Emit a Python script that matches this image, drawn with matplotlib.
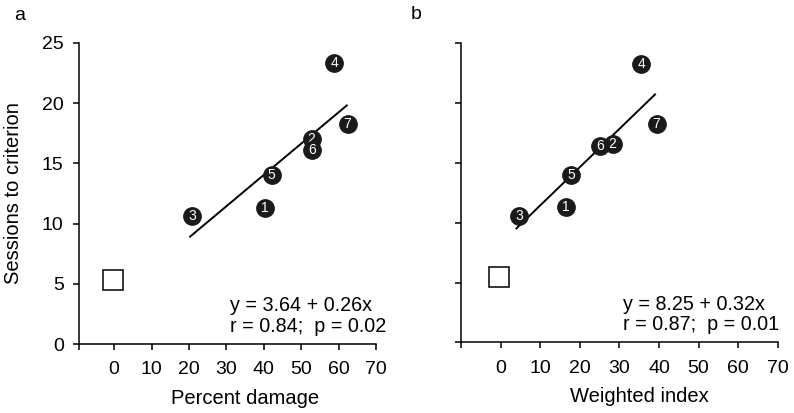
#!/usr/bin/env python3

# sessions to criterion vs lesion size, two panels

import matplotlib
matplotlib.use("Agg")
import matplotlib.pyplot as plt

plt.rcParams['font.family'] = ['Liberation Sans', 'DejaVu Sans']

#-- data
subjects = ["1", "2", "3", "4", "5", "6", "7"]
sessions = [11.3, 17.0, 10.6, 23.3, 14.0, 16.1, 18.3]
pct_damage = [40.3, 52.8, 20.8, 58.9, 42.1, 52.8, 62.4]
sessions_b = [11.3, 16.6, 10.6, 23.3, 14.0, 16.4, 18.25]
weighted_idx = [16.5, 28.3, 4.6, 35.5, 17.8, 25.1, 39.4]

# control group (open square)
ctrl_x_a, ctrl_y_a = -0.3, 5.3
ctrl_x_b, ctrl_y_b = -0.4, 5.5

# regression fits
fit_a = (3.64, 0.26, 20.3, 62.2)   # intercept, slope, x from, x to
fit_b = (8.25, 0.32, 4.0, 39.0)
eq_a = "y = 3.64 + 0.26x\nr = 0.84;  p = 0.02"
eq_b = "y = 8.25 + 0.32x\nr = 0.87;  p = 0.01"

xticks = [0, 10, 20, 30, 40, 50, 60, 70]
yticks = [0, 5, 10, 15, 20, 25]


def panel(ax, xs, ys, cx, cy, fit, eq, xlabel, xmin, ylabels=True):
    # points with numbers inside
    for i, (x, y) in enumerate(zip(xs, ys)):
        ax.plot(x, y, 'o', ms=12.5, color='#1a1a1a', zorder=3 + i)
        ax.text(x, y, subjects[i], color='white', fontsize=10,
                ha='center', va='center', zorder=3 + i)
    ax.plot(cx, cy, 's', ms=15, mfc='white', mec='black', mew=1.1, zorder=2)
    b0, b1, x0, x1 = fit
    ax.plot([x0, x1], [b0 + b1 * x0, b0 + b1 * x1], color='black', lw=1.4, zorder=2)
    ax.text(0.51, 0.027, eq, transform=ax.transAxes, fontsize=14.2,
            ha='left', va='bottom', linespacing=1.12)

    ax.set_xlim(xmin, 70)
    ax.set_ylim(0, 25)
    ax.set_xticks(xticks)
    ax.set_xticks([xmin], minor=True)
    ax.set_yticks(yticks)
    if not ylabels:
        ax.set_yticklabels([])
    ax.spines['top'].set_visible(False)
    ax.spines['right'].set_visible(False)
    for s in ['left', 'bottom']:
        ax.spines[s].set_linewidth(1.1)
    ax.tick_params(which='both', direction='out', length=4, width=1.1,
                   labelsize=14)
    ax.tick_params(axis='y', pad=7)
    ax.tick_params(axis='x', pad=8.5)
    ax.set_xlabel(xlabel, fontsize=14.5)
    # label sits over the middle of the 0-70 range, not the axes
    mid = (35 - xmin) / (70 - xmin)
    ax.xaxis.set_label_coords(mid, -0.15)


fig = plt.figure(figsize=(7.94, 4.13), dpi=100)
ax1 = fig.add_axes([0.0995, 0.167, 0.374, 0.729])
ax2 = fig.add_axes([0.5806, 0.171, 0.399, 0.724])

panel(ax1, pct_damage, sessions, ctrl_x_a, ctrl_y_a, fit_a, eq_a,
      "Percent damage", -9.4)
panel(ax2, weighted_idx, sessions_b, ctrl_x_b, ctrl_y_b, fit_b, eq_b,
      "Weighted index", -10.0, ylabels=False)
ax1.set_ylabel("Sessions to criterion", fontsize=14.5)
ax1.yaxis.set_label_coords(-0.19, 0.5)

fig.text(0.025, 0.962, "a", fontsize=14, ha='center', va='center')
fig.text(0.524, 0.965, "b", fontsize=14, ha='center', va='center')

fig.savefig("out.png", dpi=100)
